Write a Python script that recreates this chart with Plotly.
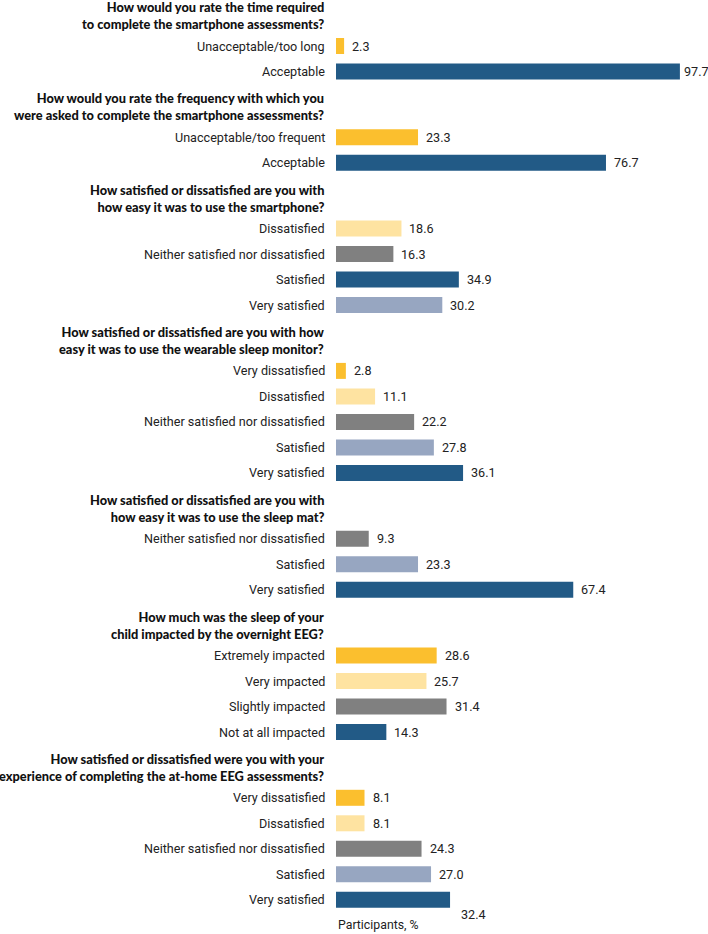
import plotly.graph_objects as go

questions = [
    "How would you rate the time required<br>to complete the smartphone assessments?",
    "How would you rate the frequency with which you<br>were asked to complete the smartphone assessments?",
    "How satisfied or dissatisfied are you with<br>how easy it was to use the smartphone?",
    "How satisfied or dissatisfied are you with how<br>easy it was to use the wearable sleep monitor?",
    "How satisfied or dissatisfied are you with<br>how easy it was to use the sleep mat?",
    "How much was the sleep of your<br>child impacted by the overnight EEG?",
    "How satisfied or dissatisfied were you with your<br>experience of completing the at-home EEG assessments?",
]
labels = [
    ["Unacceptable/too long", "Acceptable"],
    ["Unacceptable/too frequent", "Acceptable"],
    ["Dissatisfied", "Neither satisfied nor dissatisfied", "Satisfied", "Very satisfied"],
    ["Very dissatisfied", "Dissatisfied", "Neither satisfied nor dissatisfied", "Satisfied", "Very satisfied"],
    ["Neither satisfied nor dissatisfied", "Satisfied", "Very satisfied"],
    ["Extremely impacted", "Very impacted", "Slightly impacted", "Not at all impacted"],
    ["Very dissatisfied", "Dissatisfied", "Neither satisfied nor dissatisfied", "Satisfied", "Very satisfied"],
]
values = [
    [2.3, 97.7],
    [23.3, 76.7],
    [18.6, 16.3, 34.9, 30.2],
    [2.8, 11.1, 22.2, 27.8, 36.1],
    [9.3, 23.3, 67.4],
    [28.6, 25.7, 31.4, 14.3],
    [8.1, 8.1, 24.3, 27.0, 32.4],
]
color_keys = [
    ["Y", "B"],
    ["Y", "B"],
    ["LY", "G", "B", "LB"],
    ["Y", "LY", "G", "LB", "B"],
    ["G", "LB", "B"],
    ["Y", "LY", "G", "B"],
    ["Y", "LY", "G", "LB", "B"],
]
palette = {"Y": "#fbbf2e", "LY": "#fee3a1", "G": "#808080", "B": "#225a86", "LB": "#97a6c1"}
x_title = "Participants, %"

W, H = 708, 934
LEFT = 336
PX_PER_UNIT = 3.52
STEP = 25.5
GAP = 65.8
FIRST = 46

ys, xs, cols = [], [], []
annotations = []
font_label = dict(family="Roboto, Liberation Sans", size=12.6, color="#222222")
font_head = dict(family="Lato, Liberation Sans", size=12.8, color="#111111", weight=900)

y = FIRST
for qi, q in enumerate(questions):
    if qi > 0:
        y += GAP - STEP
    first_y = y
    annotations.append(dict(x=0, xref="paper", y=first_y - 30.5, yref="y",
                            text=q,
                            xanchor="right", yanchor="middle", align="right", showarrow=False,
                            xshift=-10, font=font_head))
    for li, (lab, v, ck) in enumerate(zip(labels[qi], values[qi], color_keys[qi])):
        ys.append(y)
        xs.append(v)
        cols.append(palette[ck])
        annotations.append(dict(x=0, xref="paper", y=y, yref="y", text=lab, xanchor="right", yanchor="middle",
                                showarrow=False, xshift=-9, font=font_label))
        last = (qi == len(questions) - 1 and li == len(labels[qi]) - 1)
        # keep the label inside the figure when the bar is near the right edge
        room = W - (LEFT + v * PX_PER_UNIT)
        shift = 9 if last else min(6, room - 26)
        annotations.append(dict(x=v, xref="x", y=y, yref="y", text=f"{v:.1f}", xanchor="left", yanchor="middle",
                                showarrow=False, xshift=shift, yshift=-15 if last else 0, font=font_label))
        y += STEP

annotations.append(dict(x=0, xref="x", y=ys[-1] + 25, yref="y", text=x_title, xanchor="left", yanchor="middle",
                        showarrow=False, font=dict(family="Roboto, Liberation Sans", size=12.3, color="#222222")))

fig = go.Figure(go.Bar(
    x=xs, y=ys, orientation="h", marker=dict(color=cols, line=dict(width=0)),
    width=16, hoverinfo="skip",
))
fig.update_layout(
    width=W, height=H,
    margin=dict(l=LEFT, r=0, t=0, b=0),
    paper_bgcolor="white", plot_bgcolor="white",
    showlegend=False,
    annotations=annotations,
    xaxis=dict(range=[0, (W - LEFT) / PX_PER_UNIT], visible=False, fixedrange=True),
    yaxis=dict(range=[H, 0], visible=False, fixedrange=True),
)
fig.write_html("out.html", config={"displayModeBar": False},
               post_script="document.body.style.margin='0';document.body.style.overflow='hidden';")
